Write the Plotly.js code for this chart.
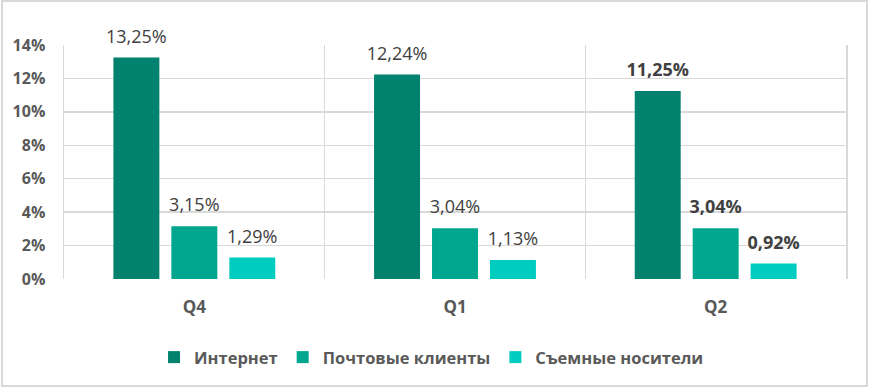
<!DOCTYPE html>
<html><head><meta charset="utf-8">
<script src="https://cdn.plot.ly/plotly-3.0.1.min.js"></script>
<style>
html,body{margin:0;padding:0;background:#fff;}
#wrap{position:relative;width:871px;height:389px;}
#chart{width:871px;height:389px;}
#frame{position:absolute;left:1px;top:0px;width:867px;height:387px;box-sizing:border-box;border:2px solid #d9d9d9;pointer-events:none;}
</style></head>
<body>
<div id="wrap"><div id="chart"></div><div id="frame"></div></div>
<script>
const categories = ['Q4', 'Q1', 'Q2'];
const seriesNames = ['Интернет', 'Почтовые клиенты', 'Съемные носители'];
const internet = [13.25, 12.24, 11.25];
const mail = [3.15, 3.04, 3.04];
const removable = [1.29, 1.13, 0.92];
const yTicks = [0, 2, 4, 6, 8, 10, 12, 14];
const boldCategory = 'Q2';

const colors = ['#00826F', '#00A78E', '#00CCC0'];
const seriesValues = [internet, mail, removable];
const FONT = '"Open Sans", "Noto Sans", sans-serif';

function fmt(v){ return v.toFixed(2).replace('.', ',') + '%'; }

const traces = [];
seriesValues.forEach((vals, i) => {
  traces.push({
    type: 'bar', name: seriesNames[i], x: categories, y: vals,
    marker: {color: colors[i]}, offsetgroup: 'g' + i,
    hoverinfo: 'skip'
  });
});
seriesValues.forEach((vals, i) => {
  traces.push({
    type: 'scatter', mode: 'markers+text', x: categories, y: vals, showlegend: false,
    offsetgroup: 'g' + i, cliponaxis: false, hoverinfo: 'skip',
    marker: {size: 15, color: 'rgba(0,0,0,0)'},
    text: vals.map((v, j) => categories[j] === boldCategory ? '<b>' + fmt(v) + '</b>' : fmt(v)),
    textposition: 'top center',
    textfont: {family: FONT, size: 18, color: '#404040'}
  });
});

const layout = {
  width: 871, height: 389,
  margin: {l: 64, r: 25, t: 45, b: 110},
  paper_bgcolor: '#ffffff', plot_bgcolor: '#ffffff',
  barmode: 'group', scattermode: 'group',
  bargap: 0.333, bargroupgap: 0.207, scattergap: 0.333,
  showlegend: true,
  legend: {orientation: 'h', x: 0.47, xanchor: 'center', y: -0.335, yanchor: 'middle',
    font: {family: FONT, size: 16.5, color: '#595959', weight: 'bold'}, itemclick: false},
  xaxis: {type: 'category', tickson: 'boundaries', showgrid: true, gridcolor: '#d9d9d9', gridwidth: 1.5,
    ticks: '', showline: false, zeroline: false,
    tickfont: {family: FONT, size: 17, color: '#595959', weight: 'bold'}, ticklabelstandoff: 16},
  yaxis: {range: [0, 14], tickvals: yTicks, ticktext: yTicks.map(t => t + '%'),
    showgrid: true, gridcolor: '#d9d9d9', gridwidth: 1.5, zeroline: false,
    showline: true, mirror: true, linecolor: '#d9d9d9', linewidth: 1.5, ticks: '',
    tickfont: {family: FONT, size: 16, color: '#595959', weight: 'bold'}, ticklabelstandoff: 14},
  hovermode: false
};

Plotly.newPlot('chart', traces, layout, {displayModeBar: false, staticPlot: true});
</script>
</body></html>
